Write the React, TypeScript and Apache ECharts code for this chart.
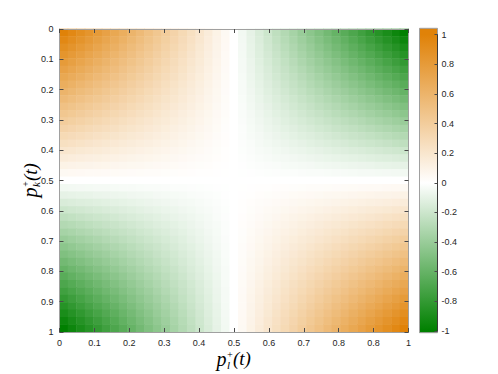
import React, { useEffect, useRef } from 'react';
import * as echarts from 'echarts';

// grid nodes along each axis (p = 0, 0.025, ..., 1)
const gridNodes = ['0', '0.025', '0.05', '0.075', '0.1', '0.125', '0.15', '0.175', '0.2', '0.225',
  '0.25', '0.275', '0.3', '0.325', '0.35', '0.375', '0.4', '0.425', '0.45', '0.475', '0.5',
  '0.525', '0.55', '0.575', '0.6', '0.625', '0.65', '0.675', '0.7', '0.725', '0.75',
  '0.775', '0.8', '0.825', '0.85', '0.875', '0.9', '0.925', '0.95', '0.975', '1'];

// tick labels as printed in the figure
const xTickLabels = ['0', '0.1', '0.2', '0.3', '0.4', '0.5', '0.6', '0.7', '0.8', '0.8', '1'];
const yTickLabels = ['0', '0.1', '0.2', '0.3', '0.4', '0.5', '0.6', '0.7', '0.8', '0.9', '1'];

// colour-bar range (field values are stored x400: 400 = 1, -400 = -1)
const valueMin = -400;
const valueMax = 400;

// field values (x400); row = p_k (top to bottom), column = p_l (left to right)
const heatRows: number[][] = [
  [400, 380, 360, 340, 320, 300, 280, 260, 240, 220, 200, 180, 160, 140, 120, 100, 80, 60, 40, 20, 0, -20, -40, -60, -80, -100, -120, -140, -160, -180, -200, -220, -240, -260, -280, -300, -320, -340, -360, -380, -400],
  [380, 361, 342, 323, 304, 285, 266, 247, 228, 209, 190, 171, 152, 133, 114, 95, 76, 57, 38, 19, 0, -19, -38, -57, -76, -95, -114, -133, -152, -171, -190, -209, -228, -247, -266, -285, -304, -323, -342, -361, -380],
  [360, 342, 324, 306, 288, 270, 252, 234, 216, 198, 180, 162, 144, 126, 108, 90, 72, 54, 36, 18, 0, -18, -36, -54, -72, -90, -108, -126, -144, -162, -180, -198, -216, -234, -252, -270, -288, -306, -324, -342, -360],
  [340, 323, 306, 289, 272, 255, 238, 221, 204, 187, 170, 153, 136, 119, 102, 85, 68, 51, 34, 17, 0, -17, -34, -51, -68, -85, -102, -119, -136, -153, -170, -187, -204, -221, -238, -255, -272, -289, -306, -323, -340],
  [320, 304, 288, 272, 256, 240, 224, 208, 192, 176, 160, 144, 128, 112, 96, 80, 64, 48, 32, 16, 0, -16, -32, -48, -64, -80, -96, -112, -128, -144, -160, -176, -192, -208, -224, -240, -256, -272, -288, -304, -320],
  [300, 285, 270, 255, 240, 225, 210, 195, 180, 165, 150, 135, 120, 105, 90, 75, 60, 45, 30, 15, 0, -15, -30, -45, -60, -75, -90, -105, -120, -135, -150, -165, -180, -195, -210, -225, -240, -255, -270, -285, -300],
  [280, 266, 252, 238, 224, 210, 196, 182, 168, 154, 140, 126, 112, 98, 84, 70, 56, 42, 28, 14, 0, -14, -28, -42, -56, -70, -84, -98, -112, -126, -140, -154, -168, -182, -196, -210, -224, -238, -252, -266, -280],
  [260, 247, 234, 221, 208, 195, 182, 169, 156, 143, 130, 117, 104, 91, 78, 65, 52, 39, 26, 13, 0, -13, -26, -39, -52, -65, -78, -91, -104, -117, -130, -143, -156, -169, -182, -195, -208, -221, -234, -247, -260],
  [240, 228, 216, 204, 192, 180, 168, 156, 144, 132, 120, 108, 96, 84, 72, 60, 48, 36, 24, 12, 0, -12, -24, -36, -48, -60, -72, -84, -96, -108, -120, -132, -144, -156, -168, -180, -192, -204, -216, -228, -240],
  [220, 209, 198, 187, 176, 165, 154, 143, 132, 121, 110, 99, 88, 77, 66, 55, 44, 33, 22, 11, 0, -11, -22, -33, -44, -55, -66, -77, -88, -99, -110, -121, -132, -143, -154, -165, -176, -187, -198, -209, -220],
  [200, 190, 180, 170, 160, 150, 140, 130, 120, 110, 100, 90, 80, 70, 60, 50, 40, 30, 20, 10, 0, -10, -20, -30, -40, -50, -60, -70, -80, -90, -100, -110, -120, -130, -140, -150, -160, -170, -180, -190, -200],
  [180, 171, 162, 153, 144, 135, 126, 117, 108, 99, 90, 81, 72, 63, 54, 45, 36, 27, 18, 9, 0, -9, -18, -27, -36, -45, -54, -63, -72, -81, -90, -99, -108, -117, -126, -135, -144, -153, -162, -171, -180],
  [160, 152, 144, 136, 128, 120, 112, 104, 96, 88, 80, 72, 64, 56, 48, 40, 32, 24, 16, 8, 0, -8, -16, -24, -32, -40, -48, -56, -64, -72, -80, -88, -96, -104, -112, -120, -128, -136, -144, -152, -160],
  [140, 133, 126, 119, 112, 105, 98, 91, 84, 77, 70, 63, 56, 49, 42, 35, 28, 21, 14, 7, 0, -7, -14, -21, -28, -35, -42, -49, -56, -63, -70, -77, -84, -91, -98, -105, -112, -119, -126, -133, -140],
  [120, 114, 108, 102, 96, 90, 84, 78, 72, 66, 60, 54, 48, 42, 36, 30, 24, 18, 12, 6, 0, -6, -12, -18, -24, -30, -36, -42, -48, -54, -60, -66, -72, -78, -84, -90, -96, -102, -108, -114, -120],
  [100, 95, 90, 85, 80, 75, 70, 65, 60, 55, 50, 45, 40, 35, 30, 25, 20, 15, 10, 5, 0, -5, -10, -15, -20, -25, -30, -35, -40, -45, -50, -55, -60, -65, -70, -75, -80, -85, -90, -95, -100],
  [80, 76, 72, 68, 64, 60, 56, 52, 48, 44, 40, 36, 32, 28, 24, 20, 16, 12, 8, 4, 0, -4, -8, -12, -16, -20, -24, -28, -32, -36, -40, -44, -48, -52, -56, -60, -64, -68, -72, -76, -80],
  [60, 57, 54, 51, 48, 45, 42, 39, 36, 33, 30, 27, 24, 21, 18, 15, 12, 9, 6, 3, 0, -3, -6, -9, -12, -15, -18, -21, -24, -27, -30, -33, -36, -39, -42, -45, -48, -51, -54, -57, -60],
  [40, 38, 36, 34, 32, 30, 28, 26, 24, 22, 20, 18, 16, 14, 12, 10, 8, 6, 4, 2, 0, -2, -4, -6, -8, -10, -12, -14, -16, -18, -20, -22, -24, -26, -28, -30, -32, -34, -36, -38, -40],
  [20, 19, 18, 17, 16, 15, 14, 13, 12, 11, 10, 9, 8, 7, 6, 5, 4, 3, 2, 1, 0, -1, -2, -3, -4, -5, -6, -7, -8, -9, -10, -11, -12, -13, -14, -15, -16, -17, -18, -19, -20],
  [0, 0, 0, 0, 0, 0, 0, 0, 0, 0, 0, 0, 0, 0, 0, 0, 0, 0, 0, 0, 0, 0, 0, 0, 0, 0, 0, 0, 0, 0, 0, 0, 0, 0, 0, 0, 0, 0, 0, 0, 0],
  [-20, -19, -18, -17, -16, -15, -14, -13, -12, -11, -10, -9, -8, -7, -6, -5, -4, -3, -2, -1, 0, 1, 2, 3, 4, 5, 6, 7, 8, 9, 10, 11, 12, 13, 14, 15, 16, 17, 18, 19, 20],
  [-40, -38, -36, -34, -32, -30, -28, -26, -24, -22, -20, -18, -16, -14, -12, -10, -8, -6, -4, -2, 0, 2, 4, 6, 8, 10, 12, 14, 16, 18, 20, 22, 24, 26, 28, 30, 32, 34, 36, 38, 40],
  [-60, -57, -54, -51, -48, -45, -42, -39, -36, -33, -30, -27, -24, -21, -18, -15, -12, -9, -6, -3, 0, 3, 6, 9, 12, 15, 18, 21, 24, 27, 30, 33, 36, 39, 42, 45, 48, 51, 54, 57, 60],
  [-80, -76, -72, -68, -64, -60, -56, -52, -48, -44, -40, -36, -32, -28, -24, -20, -16, -12, -8, -4, 0, 4, 8, 12, 16, 20, 24, 28, 32, 36, 40, 44, 48, 52, 56, 60, 64, 68, 72, 76, 80],
  [-100, -95, -90, -85, -80, -75, -70, -65, -60, -55, -50, -45, -40, -35, -30, -25, -20, -15, -10, -5, 0, 5, 10, 15, 20, 25, 30, 35, 40, 45, 50, 55, 60, 65, 70, 75, 80, 85, 90, 95, 100],
  [-120, -114, -108, -102, -96, -90, -84, -78, -72, -66, -60, -54, -48, -42, -36, -30, -24, -18, -12, -6, 0, 6, 12, 18, 24, 30, 36, 42, 48, 54, 60, 66, 72, 78, 84, 90, 96, 102, 108, 114, 120],
  [-140, -133, -126, -119, -112, -105, -98, -91, -84, -77, -70, -63, -56, -49, -42, -35, -28, -21, -14, -7, 0, 7, 14, 21, 28, 35, 42, 49, 56, 63, 70, 77, 84, 91, 98, 105, 112, 119, 126, 133, 140],
  [-160, -152, -144, -136, -128, -120, -112, -104, -96, -88, -80, -72, -64, -56, -48, -40, -32, -24, -16, -8, 0, 8, 16, 24, 32, 40, 48, 56, 64, 72, 80, 88, 96, 104, 112, 120, 128, 136, 144, 152, 160],
  [-180, -171, -162, -153, -144, -135, -126, -117, -108, -99, -90, -81, -72, -63, -54, -45, -36, -27, -18, -9, 0, 9, 18, 27, 36, 45, 54, 63, 72, 81, 90, 99, 108, 117, 126, 135, 144, 153, 162, 171, 180],
  [-200, -190, -180, -170, -160, -150, -140, -130, -120, -110, -100, -90, -80, -70, -60, -50, -40, -30, -20, -10, 0, 10, 20, 30, 40, 50, 60, 70, 80, 90, 100, 110, 120, 130, 140, 150, 160, 170, 180, 190, 200],
  [-220, -209, -198, -187, -176, -165, -154, -143, -132, -121, -110, -99, -88, -77, -66, -55, -44, -33, -22, -11, 0, 11, 22, 33, 44, 55, 66, 77, 88, 99, 110, 121, 132, 143, 154, 165, 176, 187, 198, 209, 220],
  [-240, -228, -216, -204, -192, -180, -168, -156, -144, -132, -120, -108, -96, -84, -72, -60, -48, -36, -24, -12, 0, 12, 24, 36, 48, 60, 72, 84, 96, 108, 120, 132, 144, 156, 168, 180, 192, 204, 216, 228, 240],
  [-260, -247, -234, -221, -208, -195, -182, -169, -156, -143, -130, -117, -104, -91, -78, -65, -52, -39, -26, -13, 0, 13, 26, 39, 52, 65, 78, 91, 104, 117, 130, 143, 156, 169, 182, 195, 208, 221, 234, 247, 260],
  [-280, -266, -252, -238, -224, -210, -196, -182, -168, -154, -140, -126, -112, -98, -84, -70, -56, -42, -28, -14, 0, 14, 28, 42, 56, 70, 84, 98, 112, 126, 140, 154, 168, 182, 196, 210, 224, 238, 252, 266, 280],
  [-300, -285, -270, -255, -240, -225, -210, -195, -180, -165, -150, -135, -120, -105, -90, -75, -60, -45, -30, -15, 0, 15, 30, 45, 60, 75, 90, 105, 120, 135, 150, 165, 180, 195, 210, 225, 240, 255, 270, 285, 300],
  [-320, -304, -288, -272, -256, -240, -224, -208, -192, -176, -160, -144, -128, -112, -96, -80, -64, -48, -32, -16, 0, 16, 32, 48, 64, 80, 96, 112, 128, 144, 160, 176, 192, 208, 224, 240, 256, 272, 288, 304, 320],
  [-340, -323, -306, -289, -272, -255, -238, -221, -204, -187, -170, -153, -136, -119, -102, -85, -68, -51, -34, -17, 0, 17, 34, 51, 68, 85, 102, 119, 136, 153, 170, 187, 204, 221, 238, 255, 272, 289, 306, 323, 340],
  [-360, -342, -324, -306, -288, -270, -252, -234, -216, -198, -180, -162, -144, -126, -108, -90, -72, -54, -36, -18, 0, 18, 36, 54, 72, 90, 108, 126, 144, 162, 180, 198, 216, 234, 252, 270, 288, 306, 324, 342, 360],
  [-380, -361, -342, -323, -304, -285, -266, -247, -228, -209, -190, -171, -152, -133, -114, -95, -76, -57, -38, -19, 0, 19, 38, 57, 76, 95, 114, 133, 152, 171, 190, 209, 228, 247, 266, 285, 304, 323, 342, 361, 380],
  [-400, -380, -360, -340, -320, -300, -280, -260, -240, -220, -200, -180, -160, -140, -120, -100, -80, -60, -40, -20, 0, 20, 40, 60, 80, 100, 120, 140, 160, 180, 200, 220, 240, 260, 280, 300, 320, 340, 360, 380, 400],
];

const ORANGE = '#e08208';
const GREEN = '#008000';
const FRAME = '#a0a0a0';
const TICK = '#4a4a4a';
const LABEL = '#262626';
const LABEL_FONT = '"Liberation Sans", Arial, sans-serif';
const MATH_FONT = '"Liberation Serif", "DejaVu Serif", serif';

function mathText(text: string, x: number, y: number, size: number) {
  return {
    type: 'text',
    x,
    y,
    style: {
      text,
      font: `italic ${size}px ${MATH_FONT}`,
      fill: '#000',
      align: 'left',
      verticalAlign: 'middle',
      textAlign: 'left',
      textVerticalAlign: 'middle',
    },
  };
}

function titleChildren(sub: string) {
  return [
    mathText('p', 0, 0, 20),
    mathText('+', 10, -4.5, 10),
    mathText(sub, 10.5, 6, 11),
    mathText('(t)', 16.5, 0, 19),
  ];
}

export default function App() {
  const ref = useRef<HTMLDivElement>(null);

  useEffect(() => {
    document.body.style.margin = '0';
    if (!ref.current) return;
    const chart = echarts.init(ref.current, undefined, { renderer: 'svg' });

    const data: number[][] = [];
    heatRows.forEach((row, j) => {
      row.forEach((v, i) => {
        data.push([i, j, v]);
      });
    });

    const valueAxisCommon = {
      type: 'value',
      gridIndex: 0,
      min: 0,
      max: 1,
      interval: 0.1,
      z: 5,
      axisLine: { show: true, onZero: false, lineStyle: { color: FRAME, width: 1 } },
      axisTick: { show: true, inside: true, length: 4, lineStyle: { color: TICK, width: 1 } },
      splitLine: { show: false },
    };

    const option: any = {
      animation: false,
      backgroundColor: '#ffffff',
      grid: [
        { left: 59.5, top: 29, width: 349, height: 303 },
        { left: 419.5, top: 34.7, width: 18, height: 296.3 },
      ],
      xAxis: [
        { type: 'category', gridIndex: 0, data: gridNodes, show: false, position: 'bottom' },
        {
          ...valueAxisCommon,
          position: 'bottom',
          axisLabel: {
            margin: 6,
            fontSize: 9,
            color: LABEL,
            fontFamily: LABEL_FONT,
            formatter: (v: number) => xTickLabels[Math.round(v * 10)] ?? '',
          },
        },
        { ...valueAxisCommon, position: 'top', axisLabel: { show: false } },
        { type: 'value', gridIndex: 1, min: 0, max: 1, show: false },
      ],
      yAxis: [
        { type: 'category', gridIndex: 0, data: gridNodes, inverse: true, show: false, position: 'left' },
        {
          ...valueAxisCommon,
          inverse: true,
          position: 'left',
          axisLabel: {
            margin: 6,
            fontSize: 9,
            color: LABEL,
            fontFamily: LABEL_FONT,
            formatter: (v: number) => yTickLabels[Math.round(v * 10)] ?? '',
          },
        },
        { ...valueAxisCommon, inverse: true, position: 'right', axisLabel: { show: false } },
        {
          type: 'value',
          gridIndex: 1,
          min: -1,
          max: 1,
          interval: 0.2,
          position: 'right',
          z: 5,
          axisLine: { show: true, onZero: false, lineStyle: { color: '#3a3a3a', width: 1 } },
          axisTick: { show: true, inside: true, length: 3, lineStyle: { color: TICK } },
          splitLine: { show: false },
          axisLabel: { margin: 4, fontSize: 9, color: LABEL, fontFamily: LABEL_FONT },
        },
      ],
      visualMap: {
        type: 'continuous',
        show: false,
        min: valueMin,
        max: valueMax,
        seriesIndex: 0,
        calculable: false,
        inRange: { color: [GREEN, '#ffffff', ORANGE] },
      },
      series: [
        {
          type: 'heatmap',
          xAxisIndex: 0,
          yAxisIndex: 0,
          z: 1,
          data,
          itemStyle: { borderWidth: 0 },
          emphasis: { disabled: true },
        },
      ],
      graphic: [
        {
          type: 'rect',
          z: -1,
          shape: { x: 419.5, y: 28.3, width: 18, height: 304.4 },
          style: {
            fill: {
              type: 'linear',
              x: 0,
              y: 0,
              x2: 0,
              y2: 1,
              colorStops: [
                { offset: 0, color: ORANGE },
                { offset: 0.021, color: ORANGE },
                { offset: 0.508, color: '#ffffff' },
                { offset: 0.994, color: GREEN },
                { offset: 1, color: GREEN },
              ],
            },
            stroke: FRAME,
            lineWidth: 1,
          },
        },
        {
          type: 'group',
          x: 216.5,
          y: 358.5,
          children: titleChildren('l'),
        },
        {
          type: 'group',
          x: 30,
          y: 197.5,
          rotation: Math.PI / 2,
          children: titleChildren('k'),
        },
      ],
    };

    chart.setOption(option);
    return () => chart.dispose();
  }, []);

  return <div ref={ref} style={{ width: 498, height: 374 }} />;
}
